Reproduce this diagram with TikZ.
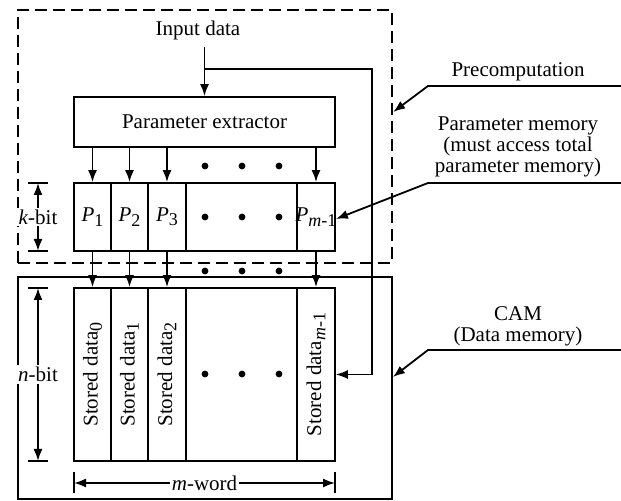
\documentclass[tikz,border=0pt]{standalone}
\usepackage{fontspec}
\setmainfont{Liberation Serif}
\usetikzlibrary{arrows.meta}
\newcommand{\lowsub}[1]{\raisebox{-0.45ex}{\small #1}}

\begin{document}
\begin{tikzpicture}[x=0.5pt, y=-0.5pt, line width=0.9pt,
    font=\fontsize{10.5}{10.5}\selectfont,
    >={Latex[length=6pt,width=4.5pt]},
    cell/.style={draw, inner sep=0pt, minimum height=34pt},
    tall/.style={draw, inner sep=0pt, minimum height=86.5pt},
    vtext/.style={rotate=90, inner sep=0pt},
    gap/.style={fill=white, inner sep=1pt}]
    \useasboundingbox (0,0) rectangle (621,501);
    % Outer boxes:
    \node[draw, dash pattern=on 6pt off 3pt, line width=1.2pt, minimum width=187pt, minimum height=126.5pt] (pre) at (205,136.5) {};
    \node[draw, minimum width=187pt, minimum height=111pt] (cam) at (205,388) {};
    % Input and extractor:
    \node (input) at (198,30) {Input data};
    \node[draw, minimum width=130.5pt, minimum height=25pt] (ext) at (204.5,122) {Parameter extractor};
    % Parameter row:
    \node[cell, minimum width=18.5pt] (p1) at (92.5,217) {\textit{P}\lowsub{1}};
    \node[cell, minimum width=18.5pt] (p2) at (129.5,217) {\textit{P}\lowsub{2}};
    \node[cell, minimum width=19pt] (p3) at (167,217) {\textit{P}\lowsub{3}};
    \node[cell, minimum width=55.5pt] (pdots) at (241.5,217) {};
    \node[cell, minimum width=19pt] (pm) at (316,217) {\makebox[0pt]{\textit{P}\lowsub{\textit{m}-1}}};
    % Stored data row:
    \node[tall, minimum width=18.5pt] (s0) at (92.5,374.5) {};
    \node[tall, minimum width=18.5pt] (s1) at (129.5,374.5) {};
    \node[tall, minimum width=19pt] (s2) at (167,374.5) {};
    \node[tall, minimum width=55.5pt] (sdots) at (241.5,374.5) {};
    \node[tall, minimum width=19pt] (sm) at (316,374.5) {};
    \node[vtext] (t0) at (s0) {Stored data\lowsub{0}};
    \node[vtext] (t1) at (s1) {Stored data\lowsub{1}};
    \node[vtext] (t2) at (s2) {Stored data\lowsub{2}};
    \node[vtext] (tm) at (sm) {Stored data\lowsub{\textit{m}-1}};
    % Dots:
    \foreach \y in {166,217,271,374}
        \foreach \x in {205,242,279}
            \fill (\x,\y) circle[radius=1.7pt];
    % Arrows:
    \foreach \c in {p1,p2,p3,pm}
        \draw[->] (\c |- ext.south) -- (\c.north);
    \foreach \c/\d in {p1/s0,p2/s1,p3/s2,pm/sm}
        \draw[->] (\c.south) -- (\d.north);
    \coordinate (split) at (205,69);
    \coordinate (turn) at (372,69);
    \draw[->] (input.south -| ext.north) -- (ext.north);
    \draw[->, line width=0.7pt] (split) -- (turn) |- (sm.east);
    % Dimensions:
    \draw (28,183) -- (48,183) (28,251) -- (48,251);
    \draw[<->] (38,183) -- node[gap] (kbit) {\textit{k}-bit} (38,251);
    \draw (28,288) -- (48,288) (28,461) -- (48,461);
    \draw[<->] (38,288) -- node[gap] (nbit) {\textit{n}-bit} (38,461);
    \draw (74,472) -- (74,493) (335,472) -- (335,493);
    \draw[<->] (74,483) -- node[gap] (mword) {\textit{m}-word} (335,483);
    % Annotations:
    \node (precomp) at (518,72) {Precomputation};
    \node[align=center] (pmem) at (518,147) {Parameter memory\\(must access total\\parameter memory)};
    \node[align=center] (camlbl) at (518,326) {CAM\\(Data memory)};
    \coordinate (a1) at (428,86);
    \coordinate (a2) at (428,183);
    \coordinate (a3) at (428,350);
    \draw[->] (621,86) -- (a1) -- (pre.east |- 0,112);
    \draw[->] (621,183) -- (a2) -- ([yshift=-1pt]pm.east);
    \draw[->] (621,350) -- (a3) -- (cam.east |- 0,377);
\end{tikzpicture}
\end{document}
